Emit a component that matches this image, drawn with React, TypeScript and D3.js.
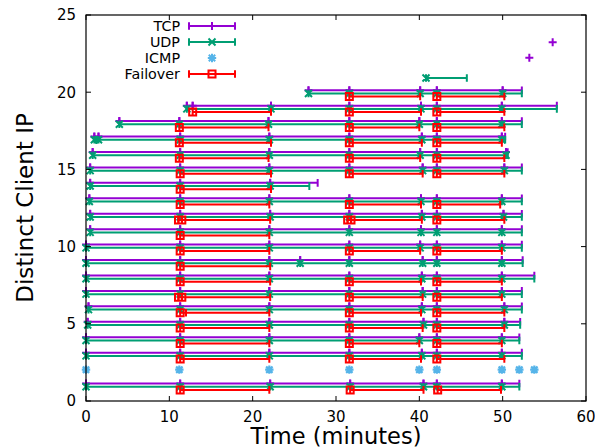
import React from 'react';
import * as d3 from 'd3';

const W = 595;
const H = 448;

const xTicks = [0, 10, 20, 30, 40, 50, 60];
const yTicks = [0, 5, 10, 15, 20, 25];

const seriesNames = ['TCP', 'UDP', 'ICMP', 'Failover'];
const seriesColors = ['#9400d3', '#009e73', '#56b4e9', '#ff0000'];

// client rows (distinct client IP index)
const rowIds = [1, 3, 4, 5, 6, 7, 8, 9, 10, 11, 12, 13, 14, 15, 16, 17, 18, 19, 20];

// TCP: sample times per row (each bar runs to the next sample), plus the last bar end
const tcpTimes: number[][] = [
  [0, 11.3, 22.1, 31.7, 40.5, 42.1, 49.9],
  [0, 11.3, 22.0, 31.6, 40.3, 42.1, 49.9],
  [0, 11.3, 22.0, 31.6, 40.0, 42.1, 49.9],
  [0.2, 11.3, 22.0, 31.6, 40.5, 42.1, 50.2],
  [0.3, 11.3, 22.0, 31.6, 40.3, 42.1, 50.2],
  [0, 11.3, 22.0, 31.6, 40.4, 42.1, 49.9],
  [0, 11.3, 22.0, 31.6, 40.3, 42.1, 49.9],
  [0, 11.3, 22.0, 25.7, 31.6, 40.4, 42.1, 49.9],
  [0, 11.3, 22.0, 31.6, 40.1, 42.1, 49.9],
  [0.5, 11.3, 22.0, 31.6, 40.2, 42.1, 49.9],
  [0.5, 11.3, 22.1, 31.6, 40.3, 42.1, 50.1],
  [0.4, 11.3, 22.0, 31.6, 40.2, 42.1, 49.9],
  [0.5, 11.3, 22.1],
  [0.5, 11.3, 22.0, 31.6, 40.4, 42.1, 50.2],
  [0.8, 11.3, 22.0, 31.6, 40.1, 42.1, 50.4],
  [1.0, 1.5, 11.3, 22.0, 31.6, 40.3, 42.1, 49.9],
  [4.0, 11.2, 21.9, 31.6, 40.0, 42.1, 49.9],
  [12.1, 12.8, 22.2, 31.6, 40.2, 42.1, 49.9],
  [26.7, 31.6, 40.1, 42.1, 50.0],
];
const tcpEnds = [52.0, 52.3, 52.0, 52.1, 52.3, 52.3, 53.8, 52.4, 52.3, 52.3, 52.3, 52.3, 27.8, 52.3, 50.6, 50.3, 52.3, 56.5, 52.3];

const udpTimes: number[][] = [
  [0, 11.3, 22.1, 31.7, 40.5, 42.1, 49.9],
  [0, 11.3, 22.0, 31.6, 40.3, 42.1, 49.9],
  [0, 11.3, 22.0, 31.6, 40.0, 42.1, 49.9],
  [0.2, 11.3, 22.0, 31.6, 40.5, 42.1, 50.2],
  [0.3, 11.3, 22.0, 31.6, 40.3, 42.1, 50.2],
  [0, 11.3, 22.0, 31.6, 40.4, 42.1, 49.9],
  [0, 11.3, 22.0, 31.6, 40.3, 42.1, 49.9],
  [0, 11.3, 22.0, 25.7, 31.6, 40.4, 42.1, 49.9],
  [0, 11.3, 22.0, 31.6, 40.1, 42.1, 49.9],
  [0.5, 11.3, 22.0, 31.6, 40.2, 42.1, 49.9],
  [0.5, 11.3, 22.1, 31.6, 40.3, 42.1, 50.1],
  [0.4, 11.3, 22.0, 31.6, 40.2, 42.1, 49.9],
  [0.5, 11.3, 22.1],
  [0.5, 11.3, 22.0, 31.6, 40.4, 42.1, 50.2],
  [0.8, 11.3, 22.0, 31.6, 40.1, 42.1, 50.4],
  [1.0, 1.5, 11.3, 22.0, 31.6, 40.3, 42.1, 49.9],
  [4.0, 11.2, 21.9, 31.6, 40.0, 42.1, 49.9],
  [12.1, 22.2, 31.6, 40.2, 42.1, 49.9],
  [26.7, 31.6, 40.1, 42.1, 50.0],
];
const udpEnds = [52.0, 52.3, 52.0, 52.1, 52.3, 52.3, 53.8, 52.4, 52.3, 52.3, 52.3, 52.3, 26.8, 52.3, 50.6, 50.3, 52.3, 56.5, 52.3];

// Failover: [start, end] per row
const failoverSegments: [number, number][][] = [
  [[11.3, 22.0], [31.7, 40.5], [42.2, 49.8]],
  [[11.3, 22.0], [31.6, 40.2], [42.1, 50.2]],
  [[11.3, 22.0], [31.6, 40.0], [42.1, 49.9]],
  [[11.3, 22.0], [31.6, 40.4], [42.1, 50.2]],
  [[11.3, 12.0], [11.3, 22.0], [31.6, 40.2], [42.1, 50.2]],
  [[11.1, 22.1], [11.5, 22.1], [31.6, 40.4], [42.1, 49.9]],
  [[11.3, 22.1], [31.6, 40.2], [42.1, 49.9]],
  [[11.3, 22.1]],
  [[11.3, 22.0], [31.6, 40.1], [42.1, 49.9]],
  [[11.3, 22.0]],
  [[11.1, 22.1], [11.5, 22.1], [31.4, 40.3], [31.8, 40.3], [42.1, 50.2]],
  [[11.3, 22.0], [31.6, 40.2], [42.1, 49.7]],
  [[11.3, 22.2]],
  [[11.3, 22.2], [31.6, 40.4], [42.1, 50.2]],
  [[11.2, 21.9], [31.6, 40.1], [42.1, 50.2]],
  [[11.2, 22.2], [31.6, 40.3], [42.1, 49.9]],
  [[11.2, 21.9], [31.6, 40.0], [42.1, 50.2]],
  [[12.8, 22.2], [31.6, 40.2], [42.1, 50.2]],
  [[31.6, 40.1], [42.1, 50.2]],
];

const icmpRow = 2;
const icmpTimes = [0, 11.2, 22.0, 31.6, 40.0, 42.1, 49.9, 52.0, 53.8];

const tcpLoneRows = [22.1, 23.1];
const tcpLoneTimes = [53.2, 56.0];
const udpLoneRows = [21];
const udpLoneTimes = [40.8];
const udpLoneEnds = [45.7];

// vertical offsets of each protocol inside a client row
const OFF_TCP = 0.13;
const OFF_UDP = -0.08;
const OFF_ICMP = 0.03;
const OFF_FAIL = -0.28;

type Pt = { x: number; y: number; lo: number; hi: number };

function buildRuns(rows: number[], times: number[][], ends: number[], off: number): Pt[] {
  const pts: Pt[] = [];
  rows.forEach((r, i) => {
    const t = times[i];
    t.forEach((v, j) => {
      pts.push({ x: v, y: r + off, lo: v, hi: j + 1 < t.length ? t[j + 1] : ends[i] });
    });
  });
  return pts;
}

const tcpPts: Pt[] = [
  ...buildRuns(rowIds, tcpTimes, tcpEnds, OFF_TCP),
  ...tcpLoneRows.map((r, i) => ({ x: tcpLoneTimes[i], y: r + OFF_TCP, lo: tcpLoneTimes[i], hi: tcpLoneTimes[i] })),
];
const udpPts: Pt[] = [
  ...buildRuns(rowIds, udpTimes, udpEnds, OFF_UDP),
  ...udpLoneRows.map((r, i) => ({ x: udpLoneTimes[i], y: r + OFF_UDP, lo: udpLoneTimes[i], hi: udpLoneEnds[i] })),
];
const failPts: Pt[] = [];
rowIds.forEach((r, i) => {
  failoverSegments[i].forEach(([a, b]) => failPts.push({ x: a, y: r + OFF_FAIL, lo: a, hi: b }));
});
const icmpPts = icmpTimes.map((t) => ({ x: t, y: icmpRow + OFF_ICMP }));

const PL = 86, PR = 586, PT = 15, PB = 401;
const x = d3.scaleLinear().domain([0, 60]).range([PL, PR]);
const y = d3.scaleLinear().domain([0, 25]).range([PB, PT]);

const CAP = 3.8;
const FONT = 'DejaVu Sans, sans-serif';

function plusPath(cx: number, cy: number, s = 4) {
  return `M${cx - s},${cy}H${cx + s}M${cx},${cy - s}V${cy + s}`;
}
function crossPath(cx: number, cy: number, s = 3.5) {
  return `M${cx - s},${cy - s}L${cx + s},${cy + s}M${cx - s},${cy + s}L${cx + s},${cy - s}`;
}
function starPath(cx: number, cy: number) {
  return plusPath(cx, cy, 4.2) + crossPath(cx, cy, 3.2);
}
function squarePath(cx: number, cy: number, s = 3.5) {
  return `M${cx - s},${cy - s}H${cx + s}V${cy + s}H${cx - s}Z`;
}

function barPath(x0: number, x1: number, yy: number) {
  return `M${x0},${yy}H${x1}M${x0},${yy - CAP}V${yy + CAP}M${x1},${yy - CAP}V${yy + CAP}`;
}

function ErrorSeries({ pts, color, marker }: { pts: Pt[]; color: string; marker: (cx: number, cy: number) => string }) {
  const bars = pts.filter((p) => p.hi > p.lo).map((p) => barPath(x(p.lo), x(p.hi), y(p.y))).join('');
  const marks = pts.map((p) => marker(x(p.x), y(p.y))).join('');
  return (
    <g>
      <path d={bars} stroke={color} strokeWidth={2} fill="none" />
      <path d={marks} stroke={color} strokeWidth={2} fill="none" />
    </g>
  );
}

export default function App() {
  const legendY = [26, 42, 58, 74];
  const lx0 = 189, lx1 = 235, lxm = 212;
  return (
    <svg width={W} height={H} style={{ position: 'absolute', left: 0, top: 0, background: '#fff' }} fontFamily={FONT}>
      <rect x={0} y={0} width={W} height={H} fill="#fff" />
      {/* series */}
      <ErrorSeries pts={tcpPts} color={seriesColors[0]} marker={(cx, cy) => plusPath(cx, cy)} />
      <ErrorSeries pts={udpPts} color={seriesColors[1]} marker={(cx, cy) => crossPath(cx, cy)} />
      <path d={icmpPts.map((p) => starPath(x(p.x), y(p.y))).join('')} stroke={seriesColors[2]} strokeWidth={2.2} fill="none" />
      <ErrorSeries pts={failPts} color={seriesColors[3]} marker={(cx, cy) => squarePath(cx, cy)} />

      {/* frame */}
      <rect x={PL} y={PT} width={PR - PL} height={PB - PT} fill="none" stroke="#000" strokeWidth={1.2} />
      {xTicks.map((t) => (
        <g key={'x' + t}>
          <line x1={x(t)} x2={x(t)} y1={PB} y2={PB - 5} stroke="#000" />
          <line x1={x(t)} x2={x(t)} y1={PT} y2={PT + 5} stroke="#000" />
          <text x={x(t)} y={422} fontSize={15} textAnchor="middle" fill="#000">{t}</text>
        </g>
      ))}
      {yTicks.map((t) => (
        <g key={'y' + t}>
          <line x1={PL} x2={PL + 5} y1={y(t)} y2={y(t)} stroke="#000" />
          <line x1={PR} x2={PR - 5} y1={y(t)} y2={y(t)} stroke="#000" />
          <text x={76} y={y(t) + 5.3} fontSize={15} textAnchor="end" fill="#000">{t}</text>
        </g>
      ))}
      <text x={(PL + PR) / 2} y={444} fontSize={22.5} textAnchor="middle" fill="#000">Time (minutes)</text>
      <text transform={`translate(33,${(PT + PB) / 2}) rotate(-90)`} fontSize={23} textAnchor="middle" fill="#000">Distinct Client IP</text>

      {/* legend */}
      {seriesNames.map((name, i) => {
        const ly = legendY[i];
        const c = seriesColors[i];
        let mk = '';
        if (i === 0) mk = plusPath(lxm, ly);
        else if (i === 1) mk = crossPath(lxm, ly);
        else if (i === 2) mk = starPath(lxm, ly);
        else mk = squarePath(lxm, ly);
        return (
          <g key={name}>
            <text x={180} y={ly + 5.2} fontSize={14.3} textAnchor="end" fill="#000">{name}</text>
            {i !== 2 && <path d={barPath(lx0, lx1, ly)} stroke={c} strokeWidth={2} fill="none" />}
            <path d={mk} stroke={c} strokeWidth={2} fill="none" />
          </g>
        );
      })}
    </svg>
  );
}
